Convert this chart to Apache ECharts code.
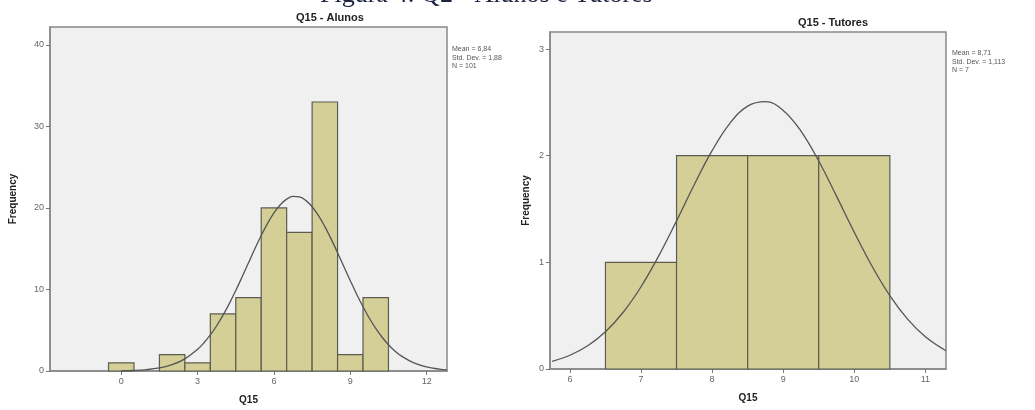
<!DOCTYPE html>
<html><head><meta charset="utf-8">
<script src="https://cdn.jsdelivr.net/npm/echarts@6/dist/echarts.min.js"></script>
<style>html,body{margin:0;padding:0;background:#fff}#c{width:1035px;height:410px}</style>
</head><body><div id="c"></div>
<script>
// Alunos (students)
const alunosBins = [0, 2, 3, 4, 5, 6, 7, 8, 9, 10];
const alunosFreq = [1, 2, 1, 7, 9, 20, 17, 33, 2, 9];
const alunosCurveX = [0, 0.5, 1, 1.5, 2, 2.5, 3, 3.25, 3.5, 3.75, 4, 4.25, 4.5, 4.75, 5, 5.25, 5.5, 5.75, 6, 6.25, 6.5, 6.75, 7, 7.25, 7.5, 7.75, 8, 8.25, 8.5, 8.75, 9, 9.25, 9.5, 9.75, 10, 10.25, 10.5, 10.75, 11, 11.5, 12, 12.5, 12.8];
const alunosCurveY = [0.03, 0.07, 0.17, 0.38, 0.78, 1.49, 2.66, 3.46, 4.42, 5.55, 6.85, 8.3, 9.87, 11.55, 13.27, 14.99, 16.62, 18.11, 19.39, 20.4, 21.08, 21.41, 21.35, 20.93, 20.15, 19.06, 17.71, 16.18, 14.51, 12.79, 11.08, 9.42, 7.88, 6.47, 5.22, 4.14, 3.22, 2.46, 1.85, 0.99, 0.5, 0.23, 0.14];
const alunosXTicks = [0, 3, 6, 9, 12];
const alunosYTicks = [0, 10, 20, 30, 40];
const alunosStats = ['Mean = 6,84', 'Std. Dev. = 1,88', 'N = 101'];

// Tutores
const tutoresBins = [7, 8, 9, 10];
const tutoresFreq = [1, 2, 2, 2];
const tutoresCurveX = [5.75, 6, 6.25, 6.5, 6.75, 7, 7.25, 7.5, 7.75, 8, 8.25, 8.5, 8.75, 9, 9.25, 9.5, 9.75, 10, 10.25, 10.5, 10.75, 11, 11.29];
const tutoresCurveY = [0.072, 0.129, 0.218, 0.349, 0.532, 0.771, 1.061, 1.389, 1.73, 2.047, 2.304, 2.465, 2.507, 2.425, 2.231, 1.95, 1.621, 1.282, 0.964, 0.689, 0.468, 0.302, 0.171];
const tutoresXTicks = [6, 7, 8, 9, 10, 11];
const tutoresYTicks = [0, 1, 2, 3];
const tutoresStats = ['Mean = 8,71', 'Std. Dev. = 1,113', 'N = 7'];

const chart = echarts.init(document.getElementById('c'), null, {renderer: 'canvas'});
const font = 'Arial, "Liberation Sans", sans-serif';

function xAxis(gi, min, max, ticks) {
  return {
    type: 'value', gridIndex: gi, min: min, max: max,
    name: 'Q15', nameLocation: 'middle', nameGap: 24,
    nameTextStyle: {fontFamily: font, fontWeight: 'bold', fontSize: 10, color: '#222'},
    axisLine: {show: true, onZero: false, lineStyle: {color: '#888', width: 1.5}},
    axisTick: {show: true, length: 4, customValues: ticks, lineStyle: {color: '#777'}},
    axisLabel: {customValues: ticks, fontFamily: font, fontSize: 9, color: '#666', margin: 6},
    splitLine: {show: false}
  };
}
function yAxis(gi, max, ticks, gap) {
  return {
    type: 'value', gridIndex: gi, min: 0, max: max,
    name: 'Frequency', nameLocation: 'middle', nameGap: gap, nameRotate: 90,
    nameTextStyle: {fontFamily: font, fontWeight: 'bold', fontSize: 10, color: '#222'},
    axisLine: {show: true, onZero: false, lineStyle: {color: '#888', width: 1.5}},
    axisTick: {show: true, length: 4, customValues: ticks, lineStyle: {color: '#777'}},
    axisLabel: {customValues: ticks, fontFamily: font, fontSize: 9, color: '#666', margin: 6},
    splitLine: {show: false}
  };
}
function bars(gi, bins, freq) {
  return {
    type: 'custom', xAxisIndex: gi, yAxisIndex: gi,
    data: bins.map((b, i) => [b, freq[i]]),
    renderItem: function (params, api) {
      const x = api.value(0), y = api.value(1);
      const p0 = api.coord([x - 0.5, 0]);
      const p1 = api.coord([x + 0.5, y]);
      return {
        type: 'rect',
        shape: {x: p0[0], y: p1[1], width: p1[0] - p0[0], height: p0[1] - p1[1]},
        style: {fill: '#d3cf96', stroke: '#5c5c50', lineWidth: 1.2}
      };
    },
    z: 2
  };
}
function curve(gi, xs, ys) {
  return {
    type: 'line', xAxisIndex: gi, yAxisIndex: gi, smooth: 0.4, showSymbol: false,
    data: xs.map((x, i) => [x, ys[i]]),
    lineStyle: {color: '#555', width: 1.3}, z: 3, silent: true
  };
}
function statsText(x, y, lines) {
  return {
    type: 'text', left: x, top: y,
    style: {text: lines.join('\n'), fontFamily: font, fontSize: 7, lineHeight: 8.5, fill: '#555'}
  };
}

chart.setOption({
  animation: false,
  grid: [
    {left: 50, top: 27, width: 397, height: 347, show: true, backgroundColor: '#f0f0f0', borderColor: '#888', borderWidth: 1.5},
    {left: 550, top: 32, width: 396, height: 337, show: true, backgroundColor: '#f0f0f0', borderColor: '#888', borderWidth: 1.5}
  ],
  xAxis: [xAxis(0, -2.8, 12.8, alunosXTicks), xAxis(1, 5.72, 11.29, tutoresXTicks)],
  yAxis: [yAxis(0, 42.2, alunosYTicks, 32), yAxis(1, 3.16, tutoresYTicks, 19)],
  series: [
    bars(0, alunosBins, alunosFreq), curve(0, alunosCurveX, alunosCurveY),
    bars(1, tutoresBins, tutoresFreq), curve(1, tutoresCurveX, tutoresCurveY)
  ],
  graphic: [
    {type: 'text', left: 320, top: -18,
     style: {text: 'Figura 4: Q2 - Alunos e Tutores', fontFamily: '"Liberation Serif", "Times New Roman", serif', fontSize: 26, fill: '#1e2340'}},
    {type: 'text', left: 296, top: 12, style: {text: 'Q15 - Alunos', fontFamily: font, fontWeight: 'bold', fontSize: 11, fill: '#222', align: 'center'}},
    {type: 'text', left: 798, top: 17, style: {text: 'Q15 - Tutores', fontFamily: font, fontWeight: 'bold', fontSize: 11, fill: '#222', align: 'center'}},
    statsText(452, 45, alunosStats),
    statsText(952, 49, tutoresStats)
  ]
});
</script></body></html>
